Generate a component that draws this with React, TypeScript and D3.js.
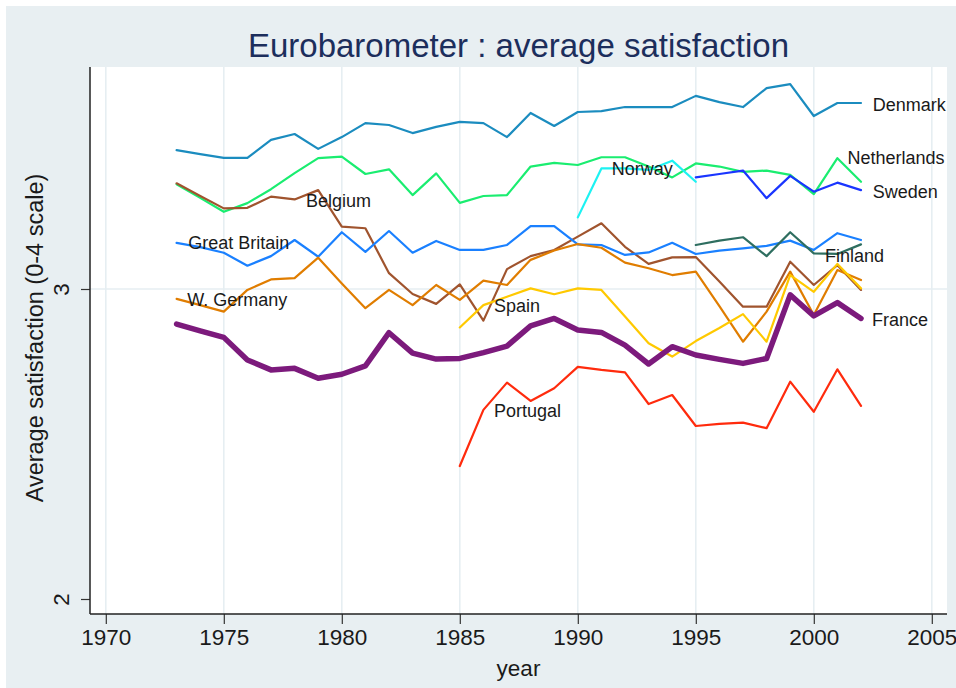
import { useEffect, useRef } from "react"
import * as d3 from "d3"

// survey years
const years = [
  1973, 1974, 1975, 1976, 1977, 1978, 1979, 1980, 1981, 1982, 1983, 1984, 1985, 1986, 1987,
  1988, 1989, 1990, 1991, 1992, 1993, 1994, 1995, 1996, 1997, 1998, 1999, 2000, 2001, 2002,
]
const years1985 = years.slice(12)
const years1990 = years.slice(17, 23)
const years1995 = years.slice(22)

// average satisfaction
const denmark = [
  3.448, 3.435, 3.423, 3.423, 3.481, 3.5, 3.452, 3.49, 3.535, 3.529, 3.503, 3.523, 3.539, 3.535, 3.49,
  3.568, 3.526, 3.571, 3.574, 3.587, 3.587, 3.587, 3.623, 3.603, 3.587, 3.648, 3.661, 3.558, 3.6, 3.6,
]
const netherlands = [
  3.338, 3.294, 3.249, 3.277, 3.322, 3.374, 3.422, 3.427, 3.371, 3.386, 3.303, 3.373, 3.278, 3.3, 3.303,
  3.395, 3.407, 3.4, 3.425, 3.425, 3.395, 3.36, 3.405, 3.395, 3.378, 3.382, 3.368, 3.306, 3.422, 3.346,
]
const belgium = [
  3.341, 3.3, 3.26, 3.262, 3.298, 3.289, 3.319, 3.201, 3.196, 3.051, 2.984, 2.952, 3.015, 2.898, 3.064,
  3.106, 3.126, 3.169, 3.212, 3.136, 3.081, 3.102, 3.103, 3.024, 2.943, 2.943, 3.088, 3.013, 3.077, 2.997,
]
const greatBritain = [
  3.149, 3.135, 3.117, 3.075, 3.106, 3.158, 3.104, 3.183, 3.12, 3.187, 3.117, 3.155, 3.126, 3.126, 3.142,
  3.203, 3.203, 3.144, 3.142, 3.11, 3.118, 3.149, 3.113, 3.124, 3.131, 3.139, 3.156, 3.126, 3.18, 3.158,
]
const wGermany = [
  2.968, 2.948, 2.927, 2.997, 3.031, 3.035, 3.101, 3.018, 2.938, 2.997, 2.948, 3.013, 2.965, 3.027, 3.013,
  3.094, 3.124, 3.145, 3.133, 3.085, 3.067, 3.045, 3.056, 2.945, 2.83, 2.927, 3.056, 2.916, 3.061, 3.029,
]
const france = [
  2.887, 2.865, 2.844, 2.771, 2.739, 2.744, 2.712, 2.725, 2.752, 2.859, 2.793, 2.774, 2.776, 2.795, 2.816,
  2.881, 2.905, 2.868, 2.86, 2.819, 2.758, 2.814, 2.787, 2.773, 2.76, 2.776, 2.981, 2.913, 2.956, 2.905,
]
const spain = [
  2.876, 2.948, 2.975, 3.002, 2.983, 3.002, 2.997, 2.911, 2.825, 2.782, 2.832, 2.874, 2.919, 2.83, 3.045,
  2.991, 3.081, 3.002,
]
const portugal = [
  2.429, 2.61, 2.698, 2.639, 2.68, 2.749, 2.739, 2.731, 2.629, 2.658, 2.558, 2.565, 2.569, 2.551, 2.701,
  2.604, 2.741, 2.623,
]
const norway = [3.231, 3.389, 3.389, 3.384, 3.414, 3.346]
const sweden = [3.36, 3.371, 3.382, 3.293, 3.365, 3.314, 3.343, 3.319]
const finland = [3.142, 3.156, 3.167, 3.106, 3.183, 3.115, 3.113, 3.144]

const xTicks = [1970, 1975, 1980, 1985, 1990, 1995, 2000, 2005]
const yTicks = [2, 3]
const yGrid = [3]

interface Series {
  name: string
  years: number[]
  values: number[]
  color: string
  width: number
  // label anchored at a year of the series, offset in pixels
  labelYear: number
  dx: number
  dy: number
}

const series: Series[] = [
  { name: "Denmark", years, values: denmark, color: "#1b8cbf", width: 2.2, labelYear: 2002, dx: 11.7, dy: 8 },
  { name: "Netherlands", years, values: netherlands, color: "#1aed70", width: 2.2, labelYear: 2001, dx: 10, dy: 6 },
  { name: "Sweden", years: years1995, values: sweden, color: "#1a35ff", width: 2.2, labelYear: 2002, dx: 11.7, dy: 7.7 },
  { name: "Norway", years: years1990, values: norway, color: "#1df2f2", width: 2.2, labelYear: 1991, dx: 10.4, dy: 6.7 },
  { name: "Belgium", years, values: belgium, color: "#a0542e", width: 2.2, labelYear: 1979, dx: -12.3, dy: 16.7 },
  { name: "Great Britain", years, values: greatBritain, color: "#1a80ff", width: 2.2, labelYear: 1973, dx: 11.6, dy: 6.3 },
  { name: "Finland", years: years1995, values: finland, color: "#2e6e60", width: 2.2, labelYear: 2002, dx: -36, dy: 17.4 },
  { name: "W. Germany", years, values: wGermany, color: "#e07d00", width: 2.2, labelYear: 1973, dx: 10.6, dy: 6.7 },
  { name: "Spain", years: years1985, values: spain, color: "#ffc900", width: 2.2, labelYear: 1986, dx: 10.5, dy: 6.7 },
  { name: "France", years, values: france, color: "#7c1a7c", width: 5.5, labelYear: 2002, dx: 11, dy: 7.4 },
  { name: "Portugal", years: years1985, values: portugal, color: "#ff2b0d", width: 2.2, labelYear: 1986, dx: 10.5, dy: 7 },
]

const W = 956
const H = 688
const plot = { left: 90, right: 947, top: 67, bottom: 614 }
const font = "'Liberation Sans', Arial, sans-serif"
const bg = "#e8eff2"
const ink = "#1a1a1a"

export default function App() {
  const svgRef = useRef<SVGSVGElement>(null)

  useEffect(() => {
    if (!svgRef.current) return
    const svg = d3.select(svgRef.current)
    svg.selectAll("*").remove()

    svg.append("rect").attr("width", W).attr("height", H).attr("fill", "#fff")
    svg.append("rect").attr("x", 6).attr("y", 6).attr("width", W - 6).attr("height", H - 6).attr("fill", bg)
    svg
      .append("rect")
      .attr("x", plot.left)
      .attr("y", plot.top)
      .attr("width", plot.right - plot.left)
      .attr("height", plot.bottom - plot.top)
      .attr("fill", "#fff")

    const x = d3.scaleLinear().domain([1970, 2005]).range([105.8, 931.8])
    const y = d3.scaleLinear().domain([2, 3]).range([599, 289])

    // grid
    svg
      .append("g")
      .selectAll("line")
      .data(xTicks)
      .join("line")
      .attr("x1", (d) => x(d))
      .attr("x2", (d) => x(d))
      .attr("y1", plot.top)
      .attr("y2", plot.bottom)
      .attr("stroke", "#e6eef2")
      .attr("stroke-width", 1.6)

    svg
      .append("g")
      .selectAll("line")
      .data(yGrid)
      .join("line")
      .attr("x1", plot.left)
      .attr("x2", plot.right)
      .attr("y1", (d) => y(d))
      .attr("y2", (d) => y(d))
      .attr("stroke", "#e6eef2")
      .attr("stroke-width", 1.6)

    // lines
    const line = d3
      .line<[number, number]>()
      .x((d) => x(d[0]))
      .y((d) => y(d[1]))

    series.forEach((s) => {
      const pts = s.years.map((yr, i) => [yr, s.values[i]] as [number, number])
      svg
        .append("path")
        .datum(pts)
        .attr("fill", "none")
        .attr("stroke", s.color)
        .attr("stroke-width", s.width)
        .attr("stroke-linejoin", "round")
        .attr("stroke-linecap", "round")
        .attr("d", line)
    })

    // country labels
    series.forEach((s) => {
      const i = s.years.indexOf(s.labelYear)
      svg
        .append("text")
        .attr("x", x(s.labelYear) + s.dx)
        .attr("y", y(s.values[i]) + s.dy)
        .attr("font-family", font)
        .attr("font-size", 18)
        .attr("fill", ink)
        .text(s.name)
    })

    // axes
    const xAxis = svg
      .append("g")
      .attr("transform", `translate(0,${plot.bottom})`)
      .call(d3.axisBottom(x).tickValues(xTicks).tickSize(10).tickFormat(d3.format("d")))
    xAxis.select(".domain").remove()
    xAxis.selectAll("line").attr("stroke", "#333").attr("stroke-width", 1.2)
    xAxis
      .selectAll("text")
      .attr("y", 31)
      .attr("dy", null)
      .attr("fill", ink)
      .style("font-family", font)
      .style("font-size", "22.5px")

    const yAxis = svg
      .append("g")
      .attr("transform", `translate(${plot.left},0)`)
      .call(d3.axisLeft(y).tickValues(yTicks).tickSize(9).tickFormat(d3.format("d")))
    yAxis.select(".domain").remove()
    yAxis.selectAll("line").attr("stroke", "#333").attr("stroke-width", 1.2)
    yAxis
      .selectAll("text")
      .attr("x", null)
      .attr("dy", null)
      .attr("text-anchor", "middle")
      .attr("transform", "translate(-21,0) rotate(-90)")
      .attr("fill", ink)
      .style("font-family", font)
      .style("font-size", "22.5px")

    svg
      .append("line")
      .attr("x1", plot.left)
      .attr("x2", plot.left)
      .attr("y1", plot.top)
      .attr("y2", plot.bottom)
      .attr("stroke", "#222")
      .attr("stroke-width", 1.5)
    svg
      .append("line")
      .attr("x1", plot.left)
      .attr("x2", plot.right)
      .attr("y1", plot.bottom)
      .attr("y2", plot.bottom)
      .attr("stroke", "#222")
      .attr("stroke-width", 1.5)

    // titles
    svg
      .append("text")
      .attr("x", (plot.left + plot.right) / 2)
      .attr("y", 57)
      .attr("text-anchor", "middle")
      .attr("font-family", font)
      .attr("font-size", 33)
      .attr("fill", "#1c2e5c")
      .text("Eurobarometer : average satisfaction")

    svg
      .append("text")
      .attr("x", (plot.left + plot.right) / 2)
      .attr("y", 676)
      .attr("text-anchor", "middle")
      .attr("font-family", font)
      .attr("font-size", 22.5)
      .attr("fill", ink)
      .text("year")

    svg
      .append("text")
      .attr("transform", `translate(43,338) rotate(-90)`)
      .attr("text-anchor", "middle")
      .attr("font-family", font)
      .attr("font-size", 23.5)
      .attr("fill", ink)
      .text("Average satisfaction (0-4 scale)")
  }, [])

  return (
    <div style={{ position: "absolute", left: 0, top: 0 }}>
      <svg ref={svgRef} width={W} height={H} style={{ display: "block" }} />
    </div>
  )
}
